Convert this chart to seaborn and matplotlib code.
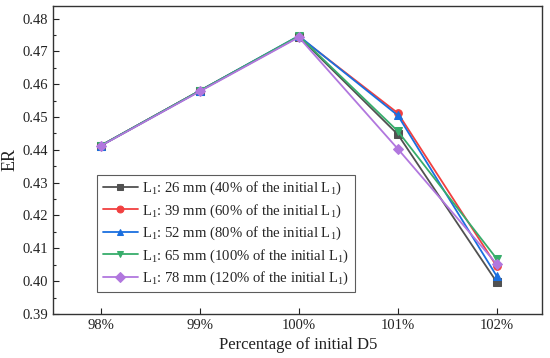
import matplotlib
matplotlib.use("Agg")
import matplotlib.pyplot as plt
import seaborn as sns
import pandas as pd
from matplotlib.ticker import MultipleLocator

categories = ["98%", "99%", "100%", "101%", "102%"]
series_names = [
    r"L$_1$: 26 mm (40% of the initial L$_1$)",
    r"L$_1$: 39 mm (60% of the initial L$_1$)",
    r"L$_1$: 52 mm (80% of the initial L$_1$)",
    r"L$_1$: 65 mm (100% of the initial L$_1$)",
    r"L$_1$: 78 mm (120% of the initial L$_1$)",
]
er_26 = [0.4413, 0.4580, 0.4745, 0.4447, 0.3997]
er_39 = [0.4413, 0.4580, 0.4745, 0.4512, 0.4045]
er_52 = [0.4413, 0.4580, 0.4747, 0.4505, 0.4015]
er_65 = [0.4413, 0.4580, 0.4747, 0.4457, 0.4068]
er_78 = [0.4412, 0.4578, 0.4743, 0.4403, 0.4052]
colors = ["#515151", "#F14040", "#1A6FDF", "#37AD6B", "#B177DE"]
markers = ["s", "o", "^", "v", "D"]

sns.set_theme(style="white")
plt.rcParams["font.family"] = ["Liberation Serif", "DejaVu Serif"]
plt.rcParams["mathtext.fontset"] = "custom"
plt.rcParams["mathtext.rm"] = "Liberation Serif"
plt.rcParams["mathtext.it"] = "Liberation Serif"

rows = []
for name, vals in zip(series_names, [er_26, er_39, er_52, er_65, er_78]):
    for i, v in enumerate(vals):
        rows.append({"x": i, "ER": v, "series": name})
df = pd.DataFrame(rows)

fig = plt.figure(figsize=(5.5, 3.58), dpi=100)
ax = fig.add_axes([0.097, 0.123, 0.889, 0.861])
sns.lineplot(data=df, x="x", y="ER", hue="series", style="series",
             hue_order=series_names, style_order=series_names,
             palette=colors, markers=markers, dashes=False,
             markersize=5.5, linewidth=1.3, ax=ax)
for ln in ax.lines:
    ln.set_markeredgecolor(ln.get_color())

ax.set_xlim(-0.48, 4.46)
ax.set_ylim(0.39, 0.4839)
ax.set_xticks(range(len(categories)))
ax.set_xticklabels(categories)
ax.yaxis.set_major_locator(MultipleLocator(0.01))
ax.yaxis.set_minor_locator(MultipleLocator(0.005))
ax.yaxis.set_major_formatter(matplotlib.ticker.FormatStrFormatter("%.2f"))
ax.tick_params(axis="both", which="major", direction="in", length=4, width=0.8,
               labelsize=10.5, colors="#222222", left=True, bottom=True)
ax.tick_params(axis="y", which="minor", direction="in", length=2.5, width=0.8, left=True)
for s in ax.spines.values():
    s.set_color("#333333")
    s.set_linewidth(1.0)
ax.set_xlabel("Percentage of initial D5", fontsize=12, color="#222222", labelpad=4)
ax.set_ylabel("ER", fontsize=13, color="#222222")
ax.yaxis.set_label_coords(-0.072, 0.5)

leg = ax.legend(loc="lower left", bbox_to_anchor=(0.09, 0.07), fontsize=10.6,
                frameon=True, fancybox=False, edgecolor="#333333",
                handlelength=2.4, handletextpad=0.3, labelspacing=0.35,
                borderpad=0.35, borderaxespad=0, markerscale=0.9)
leg.get_frame().set_linewidth(0.8)
for h in leg.legend_handles:
    try:
        h.set_markeredgecolor(h.get_color())
    except Exception:
        pass

fig.savefig("out.png", dpi=100)
